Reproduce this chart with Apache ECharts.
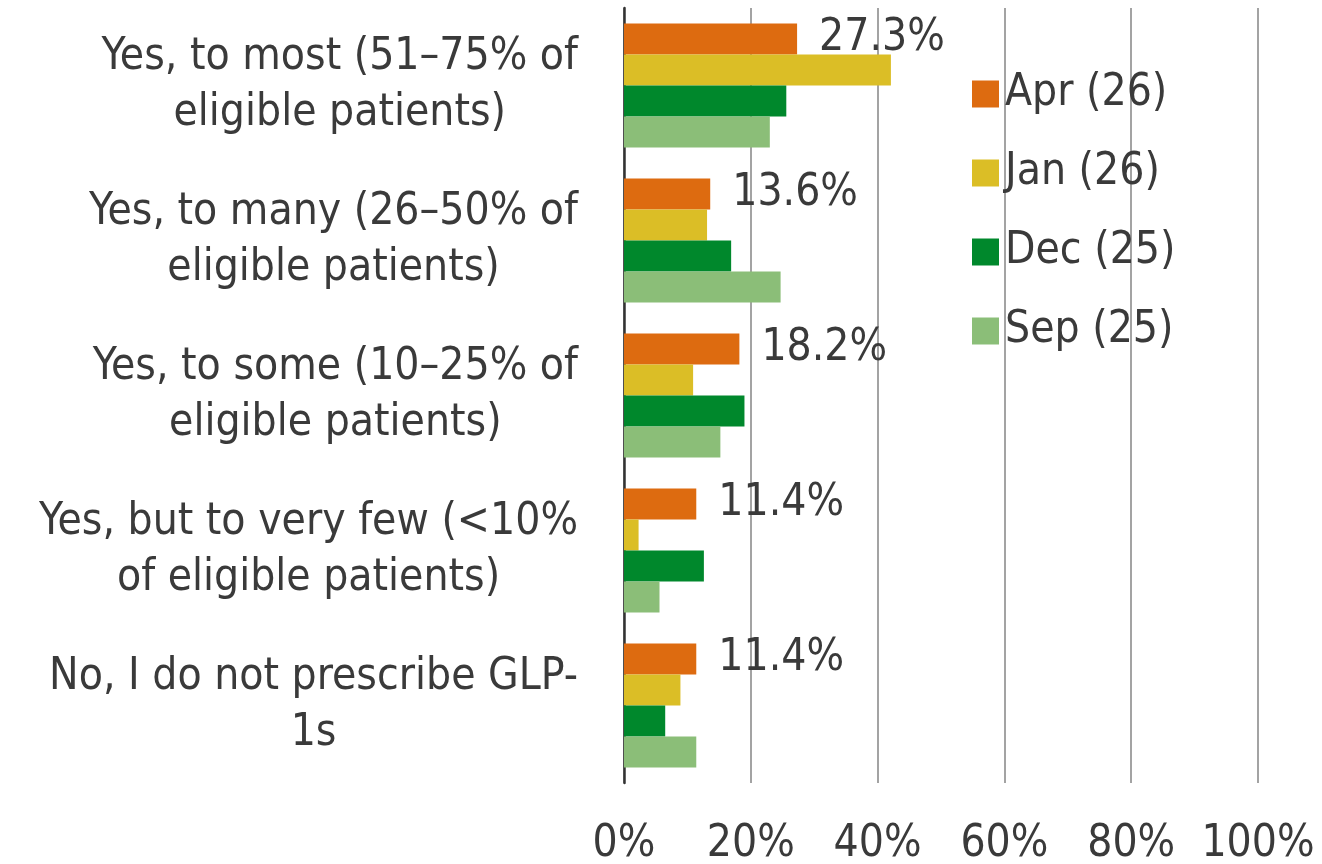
<!DOCTYPE html>
<html>
<head>
<meta charset="utf-8">
<script src="https://cdn.jsdelivr.net/npm/echarts@6/dist/echarts.min.js"></script>
<style>
  html, body { margin: 0; padding: 0; background: #ffffff; }
  #chart { width: 1322px; height: 864px; }
</style>
</head>
<body>
<div id="chart"></div>
<script>
// categories, top to bottom
var categories = [
    'Yes, to most (51\u201375% of\neligible patients)',
    'Yes, to many (26\u201350% of\neligible patients)',
    'Yes, to some (10\u201325% of\neligible patients)',
    'Yes, but to very few (<10%\nof eligible patients)',
    'No, I do not prescribe GLP-\n1s'
]
var seriesNames = ['Apr (26)', 'Jan (26)', 'Dec (25)', 'Sep (25)']
var aprValues = [27.3, 13.6, 18.2, 11.4, 11.4]
var janValues = [42.1, 13.1, 10.9, 2.3, 8.9]
var decValues = [25.6, 16.9, 19.0, 12.6, 6.5]
var sepValues = [23.0, 24.7, 15.2, 5.6, 11.4]
var xTicks = [0, 20, 40, 60, 80, 100]

var colors = ['#DD6B10', '#DBBE26', '#00882C', '#8BBE78']
var textColor = '#3a3a3a'
var fontName = '"DejaVu Sans Condensed", "DejaVu Sans", sans-serif'

var myChart = echarts.init(document.getElementById('chart'))

function makeSeries(name, values, idx, withLabel) {
    return {
        name: name,
        type: 'bar',
        data: values,
        barGap: '0%',
        barCategoryGap: '20%',
        itemStyle: { color: colors[idx] },
        label: {
            show: withLabel,
            position: 'right',
            distance: 22,
            formatter: function (p) { return p.value.toFixed(1) + '%' },
            color: textColor,
            fontFamily: fontName,
            fontSize: 44
        },
        emphasis: { disabled: true },
        animation: false
    }
}

var option = {
    backgroundColor: '#ffffff',
    color: colors,
    textStyle: { fontFamily: fontName },
    grid: {
        left: 624,
        right: 64,
        top: 8,
        bottom: 81,
        containLabel: false,
        outerBoundsMode: 'none'
    },
    legend: {
        orient: 'vertical',
        left: 967,
        top: 64,
        icon: 'rect',
        itemWidth: 27,
        itemHeight: 27,
        itemGap: 29,
        data: seriesNames,
        textStyle: {
            color: textColor,
            fontFamily: fontName,
            fontSize: 44,
            lineHeight: 50,
            padding: [0, 0, 0, 1]
        }
    },
    xAxis: {
        type: 'value',
        min: xTicks[0],
        max: xTicks[xTicks.length - 1],
        interval: 20,
        axisLine: { show: false },
        axisTick: { show: false },
        splitLine: { show: true, lineStyle: { color: '#a3a3a3', width: 2 } },
        axisLabel: {
            formatter: '{value}%',
            color: textColor,
            fontFamily: fontName,
            fontSize: 44,
            lineHeight: 44,
            margin: 40
        }
    },
    yAxis: {
        type: 'category',
        inverse: true,
        data: categories,
        axisLine: { show: true, lineStyle: { color: '#333333', width: 2.5 } },
        axisTick: { show: false },
        axisLabel: {
            margin: 46,
            formatter: function (v) { return '{a|' + v.split('\n').join('}\n{a|') + '}' },
            rich: {
                a: {
                    color: textColor,
                    fontFamily: fontName,
                    fontSize: 44,
                    lineHeight: 56,
                    align: 'center'
                }
            }
        }
    },
    series: [
        makeSeries(seriesNames[0], aprValues, 0, true),
        makeSeries(seriesNames[1], janValues, 1, false),
        makeSeries(seriesNames[2], decValues, 2, false),
        makeSeries(seriesNames[3], sepValues, 3, false)
    ]
}

myChart.setOption(option)
</script>
</body>
</html>
